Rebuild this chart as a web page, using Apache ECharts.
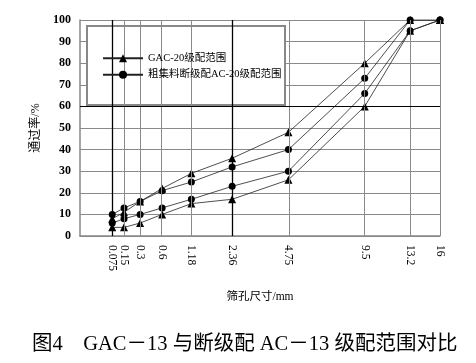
<!DOCTYPE html>
<html><head><meta charset="utf-8">
<script src="https://cdn.jsdelivr.net/npm/echarts@6/dist/echarts.min.js"></script>
<style>html,body{margin:0;padding:0;background:#fff}#c{width:476px;height:363px}</style>
</head><body><div id="c"></div>
<script>
var sieves = [0.075, 0.15, 0.3, 0.6, 1.18, 2.36, 4.75, 9.5, 13.2, 16];
var sieveLabels = ['0.075','0.15','0.3','0.6','1.18','2.36','4.75','9.5','13.2','16'];
var gacUpper = [8, 11, 16, 22, 29, 36, 48, 80, 100, 100];
var gacLower = [4, 4, 6, 10, 15, 17, 26, 60, 95, 100];
var gapUpper = [10, 13, 16, 21, 25, 32, 40, 73, 100, 100];
var gapLower = [6, 8, 10, 13, 17, 23, 30, 66, 95, 100];
var nameGAC = 'GAC-20级配范围';
var nameGap = '粗集料断级配AC-20级配范围';
var P = 0.45;
function tx(d){ return Math.pow(d, P); }
var xs = sieves.map(tx);
function pts(arr){ return arr.map(function(v,i){ return [xs[i], v]; }); }
var serif = '"Liberation Serif","Noto Sans CJK SC",serif';
var chart = echarts.init(document.getElementById('c'));
var vLines = xs.map(function(x,i){
  var dark = (i === 0 || i === 5);
  return {xAxis: x, lineStyle: {color: dark ? '#000' : '#8a8a8a', width: dark ? 1.3 : 1, type: 'solid'}};
});
vLines.push({yAxis: 60, lineStyle: {color: '#000', width: 1.2, type: 'solid'}});
var lineStyle = {color: '#222', width: 0.8};
function mk(name, data, sym, size){
  return {name: name, type: 'line', data: pts(data), symbol: sym, symbolSize: size,
    itemStyle: {color: '#000'}, lineStyle: lineStyle, z: 3, animation: false};
}
chart.setOption({
  animation: false,
  grid: {left: 80, right: 36, top: 20, bottom: 127},
  title: {text: '图4    GAC－13 与断级配 AC－13 级配范围对比', left: 27, top: 329,
    textStyle: {fontFamily: serif, fontSize: 20.5, fontWeight: 'normal', color: '#000'}},
  graphic: [{type: 'rect', z: 3, shape: {x: 87, y: 26, width: 198, height: 79},
    style: {fill: '#fff', stroke: '#888', lineWidth: 2}}],
  legend: {orient: 'vertical', left: 97, top: 48, z: 10, itemWidth: 40, itemHeight: 10, itemGap: 6,
    data: [nameGAC, nameGap],
    textStyle: {fontFamily: serif, fontSize: 10.5, color: '#000'}},
  xAxis: {type: 'value', min: 0, max: tx(16),
    axisLine: {show: true, lineStyle: {color: '#888', width: 1.5}},
    axisTick: {show: false}, splitLine: {show: false},
    axisLabel: {customValues: xs, rotate: -90, margin: 9, fontFamily: serif, fontSize: 11.5, color: '#000',
      formatter: function(v){ var b = 0; for (var i=0;i<xs.length;i++){ if (Math.abs(xs[i]-v) < Math.abs(xs[b]-v)) b = i; } return sieveLabels[b]; }},
    name: '筛孔尺寸/mm', nameLocation: 'middle', nameGap: 55,
    nameTextStyle: {fontFamily: serif, fontSize: 11.5, color: '#000'}},
  yAxis: {type: 'value', min: 0, max: 100, interval: 10,
    axisLine: {show: true, lineStyle: {color: '#888', width: 1.5}},
    axisTick: {show: false},
    splitLine: {show: true, lineStyle: {color: '#8a8a8a', width: 1}},
    axisLabel: {fontFamily: serif, fontSize: 12, fontWeight: 'bold', color: '#000', margin: 9},
    name: '通过率/%', nameLocation: 'middle', nameGap: 38,
    nameTextStyle: {fontFamily: serif, fontSize: 12, color: '#000'}},
  series: [
    {name: 'grid', type: 'line', data: [], silent: true, z: 2,
      markLine: {silent: true, symbol: 'none', label: {show: false}, animation: false, data: vLines}},
    mk(nameGAC, gacUpper, 'triangle', 8),
    mk(nameGAC, gacLower, 'triangle', 8),
    mk(nameGap, gapUpper, 'circle', 7),
    mk(nameGap, gapLower, 'circle', 7)
  ]
});
</script></body></html>
